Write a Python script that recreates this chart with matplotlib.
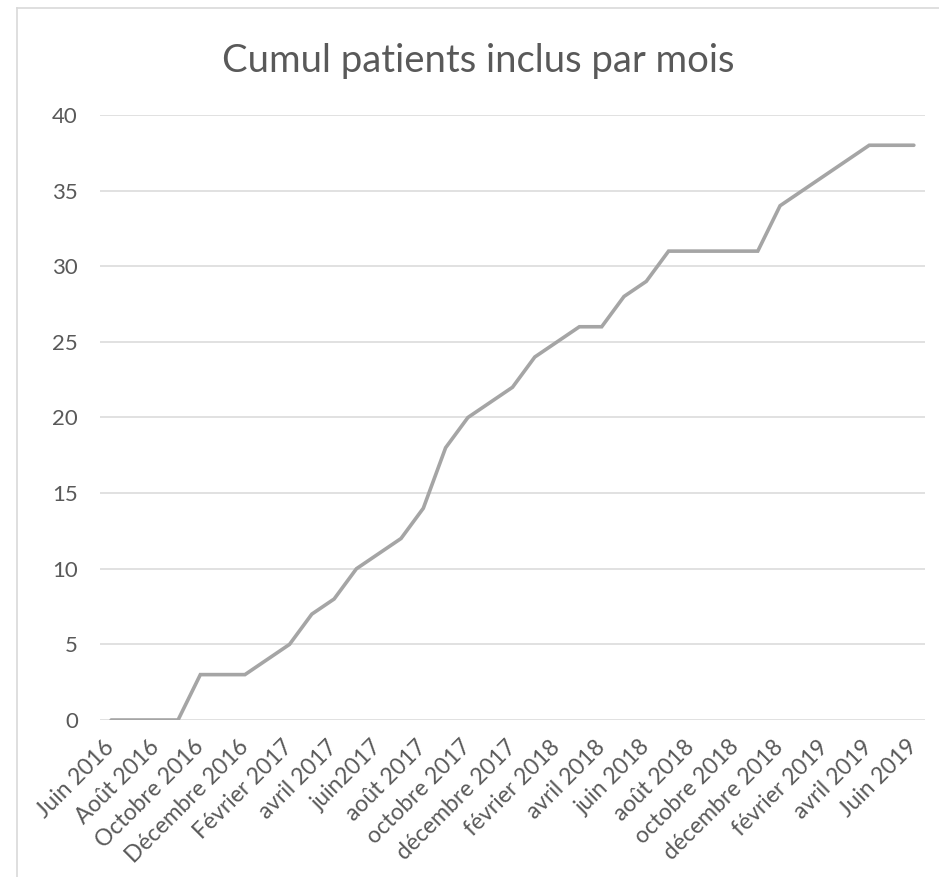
import matplotlib
matplotlib.use("Agg")
import matplotlib.pyplot as plt
from matplotlib.lines import Line2D

plt.rcParams['font.family'] = ['Lato', 'DejaVu Sans']

months = ['Juin 2016', 'Juillet 2016', 'Août 2016', 'Septembre 2016', 'Octobre 2016',
          'Novembre 2016', 'Décembre 2016', 'Janvier 2017', 'Février 2017', 'mars 2017',
          'avril 2017', 'mai 2017', 'juin2017', 'juillet 2017', 'août 2017',
          'septembre 2017', 'octobre 2017', 'novembre 2017', 'décembre 2017', 'janvier 2018',
          'février 2018', 'mars 2018', 'avril 2018', 'mai 2018', 'juin 2018',
          'juillet 2018', 'août 2018', 'septembre 2018', 'octobre 2018', 'novembre 2018',
          'décembre 2018', 'janvier 2019', 'février 2019', 'mars 2019', 'avril 2019',
          'mai 2019', 'Juin 2019']
cumul = [0, 0, 0, 0, 3, 3, 3, 4, 5, 7, 8, 10, 11, 12, 14, 18, 20, 21, 22, 24,
         25, 26, 26, 28, 29, 31, 31, 31, 31, 31, 34, 35, 36, 37, 38, 38, 38]
y_ticks = [0, 5, 10, 15, 20, 25, 30, 35, 40]

text_color = '#595959'
line_color = '#A5A5A5'
grid_color = '#D9D9D9'

W, H = 939, 877
fig = plt.figure(figsize=(W / 100, H / 100), dpi=100)

# chart area border (only left and top visible in the crop)
fig.add_artist(Line2D([17 / W, 17 / W], [0, 1 - 8 / H], color=grid_color, lw=1.2, transform=fig.transFigure))
fig.add_artist(Line2D([17 / W, 1], [1 - 8 / H, 1 - 8 / H], color=grid_color, lw=1.2, transform=fig.transFigure))

ax = fig.add_axes([100 / W, 1 - 720 / H, 825 / W, 605 / H])

x = list(range(len(months)))
ax.plot(x, cumul, color=line_color, lw=2.6, solid_capstyle='round', solid_joinstyle='miter', zorder=3)

ax.set_xlim(-0.5, len(months) - 0.5)
ax.set_ylim(0, 40)
ax.set_yticks(y_ticks)
ax.yaxis.grid(True, color=grid_color, lw=1.1)
ax.set_axisbelow(True)
for s in ax.spines.values():
    s.set_visible(False)

ax.set_xticks(x[::2])
ax.set_xticklabels(months[::2], rotation=45, ha='right', va='center', rotation_mode='anchor')
ax.tick_params(axis='x', length=0, pad=17, labelsize=16.5, labelcolor=text_color)
ax.tick_params(axis='y', length=0, pad=16, labelsize=16, labelcolor=text_color)

fig.text(478 / W, 1 - 61 / H, 'Cumul patients inclus par mois', ha='center', va='center',
         fontsize=27.5, color=text_color)

fig.savefig('out.png', dpi=100)
